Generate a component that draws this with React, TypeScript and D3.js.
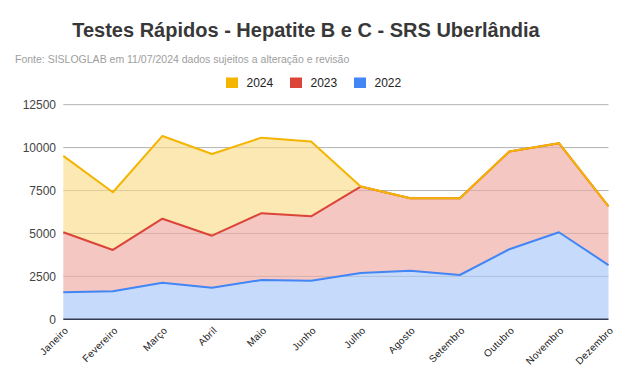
import React from "react";
import * as d3 from "d3";

const months = ["Janeiro", "Fevereiro", "Março", "Abril", "Maio", "Junho", "Julho", "Agosto", "Setembro", "Outubro", "Novembro", "Dezembro"];
const v2022 = [1570, 1630, 2130, 1840, 2290, 2250, 2700, 2830, 2580, 4080, 5070, 3160];
const v2023 = [3500, 2410, 3730, 3030, 3890, 3750, 5030, 4220, 4470, 5690, 5190, 3420];
const v2024 = [4450, 3360, 4820, 4760, 4400, 4350, 0, 0, 0, 0, 0, 0];
const yTicks = [0, 2500, 5000, 7500, 10000, 12500];

const series = [
  { name: "2022", values: v2022, line: "#4285f4", fill: "#c6dafc" },
  { name: "2023", values: v2023, line: "#db4437", fill: "#f4c7c3" },
  { name: "2024", values: v2024, line: "#f4b400", fill: "#fce8b2" },
];
const legendOrder = ["2024", "2023", "2022"];

export default function App() {
  const W = 628, H = 389;
  const x = d3.scalePoint<string>().domain(months).range([63.3, 608.5]);
  const y = d3.scaleLinear().domain([0, 12500]).range([319.3, 104.7]);

  const stacked = d3.stack<number>().keys(series.map((s, i) => String(i)))
    .value((d, k) => series[+k].values[d])(months.map((_, i) => i));

  const area = d3.area<any>()
    .x((d, i) => x(months[i])!)
    .y0(d => y(d[0]))
    .y1(d => y(d[1]));
  const line = d3.line<any>()
    .x((d, i) => x(months[i])!)
    .y(d => y(d[1]));

  return (
    <svg width={W} height={H} style={{ position: "absolute", left: 0, top: 0, background: "#fff" }} fontFamily="Arial, 'Liberation Sans', sans-serif">
      <rect width={W} height={H} fill="#fff" />
      <text x={306} y={37} textAnchor="middle" fontSize={20} fontWeight="bold" fill="#383838">Testes Rápidos - Hepatite B e C - SRS Uberlândia</text>
      <text x={15} y={63} fontSize={10.5} fill="#9e9e9e">Fonte: SISLOGLAB em 11/07/2024 dados sujeitos a alteração e revisão</text>
      {legendOrder.map((n, i) => {
        const s = series.find(ss => ss.name === n)!;
        return (
          <g key={n} transform={`translate(${226 + i * 64},77.5)`}>
            <rect width={12} height={10.5} fill={s.line} />
            <text x={20.5} y={9.5} fontSize={12} fill="#222">{n}</text>
          </g>
        );
      })}
      {yTicks.map(t => (
        <g key={t}>
          {t > 0 && <line x1={63.3} x2={608.5} y1={y(t)} y2={y(t)} stroke="#cccccc" strokeWidth={1} />}
          <text x={56} y={y(t) + 4.5} textAnchor="end" fontSize={12} fill="#444">{t}</text>
        </g>
      ))}
      {stacked.map((layer, i) => (
        <path key={"a" + i} d={area(layer as any)!} fill={series[i].fill} />
      ))}
      {yTicks.filter(t => t > 0).map(t => (
        <line key={"g" + t} x1={63.3} x2={608.5} y1={y(t)} y2={y(t)} stroke="#000" strokeOpacity={0.12} strokeWidth={1} />
      ))}
      {stacked.map((layer, i) => (
        <path key={"l" + i} d={line(layer as any)!} fill="none" stroke={series[i].line} strokeWidth={2} strokeLinejoin="round" />
      ))}
      <line x1={63.3} x2={608.5} y1={y(0)} y2={y(0)} stroke="#333d4f" strokeWidth={1.5} />
      {months.map(m => (
        <text key={m} transform={`translate(${x(m)! + 5.5},${331}) rotate(-45)`} textAnchor="end" fontSize={10} fill="#222" letterSpacing={0.3}>{m}</text>
      ))}
    </svg>
  );
}
